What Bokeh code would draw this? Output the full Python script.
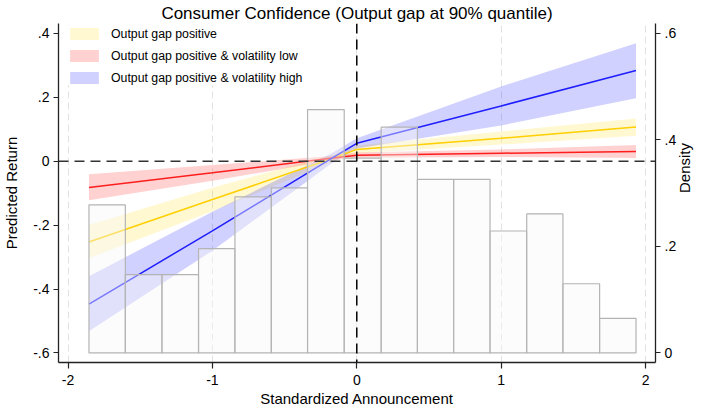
import math
from bokeh.plotting import figure
from bokeh.models import Range1d, LinearAxis, FixedTicker, Span, Legend, LegendItem
from bokeh.embed import file_html
from bokeh.resources import INLINE

FONT = "Liberation Sans"

title_text = "Consumer Confidence (Output gap at 90% quantile)"
x_label = "Standardized Announcement"
y_label = "Predicted Return"
y2_label = "Density"

x_ticks = [-2, -1, 0, 1, 2]
x_tick_labels = ["-2", "-1", "0", "1", "2"]
y_ticks = [-0.6, -0.4, -0.2, 0.0, 0.2, 0.4]
y_tick_labels = ["-.6", "-.4", "-.2", "0", ".2", ".4"]
y2_ticks = [0.0, 0.2, 0.4, 0.6]
y2_tick_labels = ["0", ".2", ".4", ".6"]

# histogram of standardized announcements (density)
hist_edges = [-1.855, -1.603, -1.349, -1.096, -0.844, -0.592, -0.341, -0.087,
              0.169, 0.420, 0.671, 0.923, 1.177, 1.428, 1.682, 1.934]
hist_density = [0.278, 0.147, 0.147, 0.196, 0.293, 0.310, 0.457, 0.366,
                0.424, 0.326, 0.326, 0.229, 0.261, 0.130, 0.065]

# fitted predicted returns with confidence bands
fit_x = [-1.855, -1.0, -0.18, 0.0, 1.0, 1.934]

pos_fit = [-0.253, -0.120, 0.007, 0.037, 0.072, 0.107]
pos_lo = [-0.303, -0.157, -0.005, 0.025, 0.052, 0.080]
pos_hi = [-0.200, -0.083, 0.019, 0.049, 0.093, 0.134]

low_fit = [-0.082, -0.036, 0.009, 0.019, 0.025, 0.030]
low_lo = [-0.122, -0.061, 0.002, 0.011, 0.013, 0.010]
low_hi = [-0.041, -0.012, 0.016, 0.027, 0.037, 0.051]

high_fit = [-0.447, -0.218, 0.007, 0.056, 0.173, 0.284]
high_lo = [-0.532, -0.280, -0.009, 0.040, 0.112, 0.197]
high_hi = [-0.360, -0.158, 0.023, 0.072, 0.234, 0.369]

series_names = ["Output gap positive",
                "Output gap positive & volatility low",
                "Output gap positive & volatility high"]

p = figure(width=705, height=409,
           x_range=Range1d(-2.066, 2.069), y_range=Range1d(-0.630, 0.431),
           output_backend="svg", toolbar_location=None,
           min_border_left=58, min_border_right=50,
           min_border_top=22, min_border_bottom=46)
p.extra_y_ranges = {"density": Range1d(-0.0179, 0.6186)}
p.outline_line_color = None
p.background_fill_color = "white"
p.border_fill_color = "white"

p.title.text = title_text
p.title.text_font = FONT
p.title.text_font_size = "17px"
p.title.text_font_style = "normal"
p.title.align = "center"
p.title.text_color = "black"
p.title.standoff = 2

# bands
band_specs = [(pos_lo, pos_hi, "#ffd700"), (low_lo, low_hi, "#ff0000"), (high_lo, high_hi, "#0000ff")]
band_r = []
for lo, hi, col in band_specs:
    r = p.varea(x=fit_x, y1=lo, y2=hi, fill_color=col, fill_alpha=0.18)
    band_r.append(r)

# lines
for ys, col in [(pos_fit, "#ffcf00"), (low_fit, "#ff1e1e"), (high_fit, "#1e1eff")]:
    p.line(x=fit_x, y=ys, line_color=col, line_width=1.5)

# histogram on top (semi-transparent)
p.quad(left=hist_edges[:-1], right=hist_edges[1:], bottom=0, top=hist_density,
       y_range_name="density", fill_color="#f8f8f8", fill_alpha=0.42,
       line_color="#b4b4b4", line_width=1.2)

# reference lines
p.add_layout(Span(location=0, dimension="width", line_color="#333333",
                  line_dash="10 6", line_width=1.5))
p.add_layout(Span(location=0, dimension="height", line_color="#000000",
                  line_dash="10 6", line_width=1.5))

# grid
p.ygrid.grid_line_color = None
p.xgrid.ticker = FixedTicker(ticks=x_ticks)
p.xgrid.grid_line_color = "#e2e2e2"
p.xgrid.grid_line_dash = "7 4"
p.xgrid.grid_line_width = 1

def style_axis(ax):
    ax.axis_line_color = "#222222"
    ax.axis_line_width = 1.3
    ax.major_tick_line_color = "#222222"
    ax.major_tick_line_width = 1.2
    ax.major_tick_in = 0
    ax.major_tick_out = 5
    ax.minor_tick_out = 0
    ax.minor_tick_in = 0
    ax.major_label_text_font = FONT
    ax.major_label_text_font_size = "14px"
    ax.major_label_text_color = "black"
    ax.axis_label_text_font = FONT
    ax.axis_label_text_font_size = "15px"
    ax.axis_label_text_font_style = "normal"
    ax.axis_label_text_color = "black"

xa = p.xaxis[0]
style_axis(xa)
xa.ticker = FixedTicker(ticks=x_ticks)
xa.major_label_overrides = dict(zip(x_ticks, x_tick_labels))
xa.axis_label = x_label
xa.major_tick_out = 6
xa.major_label_standoff = 6
xa.axis_label_standoff = 2

ya = p.yaxis[0]
style_axis(ya)
ya.ticker = FixedTicker(ticks=y_ticks)
ya.major_label_overrides = dict(zip(y_ticks, y_tick_labels))
ya.axis_label = y_label
ya.major_label_standoff = 4
ya.axis_label_standoff = 10

ra = LinearAxis(y_range_name="density", axis_label=y2_label)
style_axis(ra)
ra.ticker = FixedTicker(ticks=y2_ticks)
ra.major_label_overrides = dict(zip(y2_ticks, y2_tick_labels))
ra.major_label_standoff = 4
ra.axis_label_standoff = 5
ra.axis_label_orientation = math.pi / 2
p.add_layout(ra, "right")

legend = Legend(items=[LegendItem(label=n, renderers=[r]) for n, r in zip(series_names, band_r)],
                location=(8, 277), margin=0, padding=3, spacing=7,
                glyph_width=36, glyph_height=15, label_height=15,
                label_standoff=9, label_text_font=FONT, label_text_font_size="12.3px",
                label_text_color="black", border_line_color=None,
                background_fill_color="white", background_fill_alpha=1.0)
p.add_layout(legend)

open("out.html", "w").write(file_html(p, INLINE))
